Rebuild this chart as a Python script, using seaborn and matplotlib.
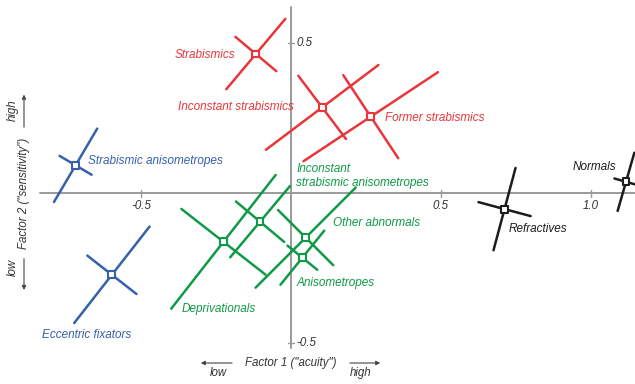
import numpy as np
import pandas as pd
import matplotlib
matplotlib.use("Agg")
import matplotlib.pyplot as plt
import seaborn as sns

# groups (factor 1 = acuity, factor 2 = sensitivity)
groups = ['Strabismics', 'Inconstant strabismics', 'Former strabismics',
          'Strabismic anisometropes', 'Eccentric fixators',
          'Deprivationals', 'Inconstant strabismic anisometropes',
          'Other abnormals', 'Anisometropes',
          'Refractives', 'Normals']
families = ['strab', 'strab', 'strab',
            'aniso', 'aniso',
            'other', 'other', 'other', 'other',
            'normal', 'normal']
center_x = [-0.117, 0.104, 0.266, -0.718, -0.597, -0.225, -0.103, 0.049, 0.038, 0.712, 1.117]
center_y = [0.464, 0.286, 0.255, 0.093, -0.272, -0.162, -0.095, -0.148, -0.215, -0.053, 0.038]
angle_deg = [50, 37, 33.5, 59.5, 52, 52, 50, 45, 51, 75, 74]
long_half = [0.153, 0.235, 0.269, 0.142, 0.204, 0.283, 0.155, 0.236, 0.116, 0.142, 0.101]
short_half = [0.089, 0.132, 0.166, 0.062, 0.104, 0.178, 0.105, 0.130, 0.064, 0.090, 0.040]

labels = ['Strabismics', 'Inconstant strabismics', 'Former strabismics',
          'Strabismic anisometropes', 'Eccentric fixators',
          'Deprivationals', 'Inconstant\nstrabismic anisometropes',
          'Other abnormals', 'Anisometropes',
          'Refractives', 'Normals']
label_pos = [(-0.187, 0.461, 'right'), (0.010, 0.288, 'right'), (0.313, 0.251, 'left'),
             (-0.677, 0.108, 'left'), (-0.830, -0.472, 'left'),
             (-0.363, -0.386, 'left'), (0.017, 0.058, 'left'),
             (0.140, -0.099, 'left'), (0.020, -0.299, 'left'),
             (0.727, -0.119, 'left'), (0.940, 0.088, 'left')]

palette = {'strab': '#e8363a', 'aniso': '#3560aa', 'other': '#109a48', 'normal': '#1c1c1c'}

# build the two crossing segments (principal axes) for every group
rows = []
for i, g in enumerate(groups):
    a = np.deg2rad(angle_deg[i])
    ux, uy = np.cos(a), np.sin(a)
    vx, vy = -np.sin(a), np.cos(a)
    for k, (dx, dy, h) in enumerate([(ux, uy, long_half[i]), (vx, vy, short_half[i])]):
        for s in (-1, 1):
            rows.append({'x': center_x[i] + s * h * dx, 'y': center_y[i] + s * h * dy,
                         'family': families[i], 'seg': f'{i}-{k}'})
seg_df = pd.DataFrame(rows)

sns.set_theme(style="white")
plt.rcParams['font.family'] = ['Liberation Sans', 'DejaVu Sans']

fig = plt.figure(figsize=(6.35, 3.84), dpi=100)
ax = fig.add_axes([0, 0, 1, 1])
ax.axis('off')

# axes through the origin
axis_col = '#9a9a9a'
ax.plot([-0.837, 1.16], [0, 0], color=axis_col, lw=1.4, zorder=1)
ax.plot([0, 0], [-0.515, 0.622], color=axis_col, lw=1.4, zorder=1)
for t in [-0.5, 0.5, 1.0]:
    ax.plot([t, t], [-0.011, 0.011], color=axis_col, lw=1.0, zorder=1)
    ax.text(t, -0.043, f'{t:.1f}', ha='center', va='center', fontsize=8.3,
            style='italic', color='#333333')
for t in [0.5, -0.5]:
    ax.plot([-0.011, 0.011], [t, t], color=axis_col, lw=1.0, zorder=1)
    ax.text(0.017, t, f'{t:.1f}', ha='left', va='center', fontsize=8.3,
            style='italic', color='#333333')

sns.lineplot(data=seg_df, x='x', y='y', hue='family', units='seg', estimator=None,
             sort=False, palette=palette, legend=False, lw=1.8, ax=ax)
sns.scatterplot(x=center_x, y=center_y, marker='s', s=24, color='white',
                edgecolor=[palette[f] for f in families], linewidth=1.5,
                zorder=4, ax=ax)
ax.set_xlim(-0.97, 1.147)
ax.set_ylim(-0.636, 0.644)

for i, txt in enumerate(labels):
    lx, ly, ha = label_pos[i]
    ax.text(lx, ly, txt, ha=ha, va='center', fontsize=8.5, style='italic',
            color=palette[families[i]], linespacing=1.2)

# axis titles with low/high arrows
lab_col = '#333333'
arrow = dict(arrowstyle='-|>', color='#444444', lw=0.8, mutation_scale=6)
ax.text(0, -0.566, 'Factor 1 ("acuity")', ha='center', va='center', fontsize=8.3,
        style='italic', color=lab_col)
ax.annotate('', xy=(-0.31, -0.566), xytext=(-0.187, -0.566), arrowprops=arrow)
ax.annotate('', xy=(0.307, -0.566), xytext=(0.187, -0.566), arrowprops=arrow)
ax.text(-0.243, -0.600, 'low', ha='center', va='center', fontsize=8.3, style='italic', color=lab_col)
ax.text(0.233, -0.600, 'high', ha='center', va='center', fontsize=8.3, style='italic', color=lab_col)

ax.text(-0.89, 0, 'Factor 2 ("sensitivity")', ha='center', va='center', rotation=90,
        fontsize=8.3, style='italic', color=lab_col)
ax.annotate('', xy=(-0.89, 0.338), xytext=(-0.89, 0.211), arrowprops=arrow)
ax.annotate('', xy=(-0.89, -0.332), xytext=(-0.89, -0.209), arrowprops=arrow)
ax.text(-0.928, 0.278, 'high', ha='center', va='center', rotation=90, fontsize=8.3,
        style='italic', color=lab_col)
ax.text(-0.928, -0.249, 'low', ha='center', va='center', rotation=90, fontsize=8.3,
        style='italic', color=lab_col)

fig.savefig('out.png', dpi=100)
